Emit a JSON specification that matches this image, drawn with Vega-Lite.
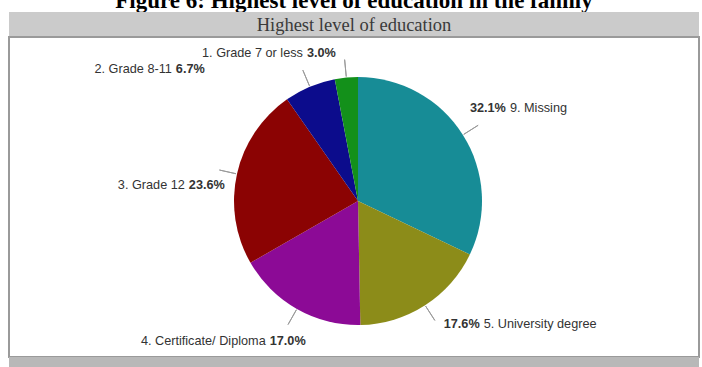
{
  "$schema": "https://vega.github.io/schema/vega-lite/v6.json",
  "padding": {"left": 8, "right": 4, "top": -5, "bottom": 0},
  "background": "white",
  "bounds": "flush",
  "spacing": 0,
  "config": {"view": {"stroke": null}, "concat": {"spacing": 0}},
  "datasets": {
    "edu": [
      {"category": "9. Missing", "share": 0.321},
      {"category": "5. University degree", "share": 0.176},
      {"category": "4. Certificate/ Diploma", "share": 0.170},
      {"category": "3. Grade 12", "share": 0.236},
      {"category": "2. Grade 8-11", "share": 0.067},
      {"category": "1. Grade 7 or less", "share": 0.030}
    ],
    "figtitle": [{"t": "Figure 6: Highest level of education in the family"}],
    "header": [{"t": "Highest level of education"}],
    "blank": [{"t": ""}]
  },
  "vconcat": [
    {
      "width": 690, "height": 12,
      "data": {"name": "figtitle"},
      "mark": {"type": "text", "clip": true, "font": "Liberation Serif", "fontWeight": "bold", "fontSize": 23, "color": "black", "baseline": "alphabetic", "dy": 2},
      "encoding": {"text": {"field": "t"}}
    },
    {
      "width": 690, "height": 25,
      "view": {"fill": "#cbcbcb", "stroke": null},
      "data": {"name": "header"},
      "mark": {"type": "text", "font": "Liberation Serif", "fontSize": 18.5, "color": "#3a3a3a", "baseline": "middle"},
      "encoding": {"text": {"field": "t"}}
    },
    {
      "width": 690, "height": 320,
      "view": {"fill": "white", "stroke": "#9a9a9a", "strokeWidth": 2},
      "data": {"name": "edu"},
      "encoding": {
        "theta": {"field": "share", "type": "quantitative", "stack": true},
        "order": {"field": "category", "sort": "descending"}
      },
      "layer": [
        {
          "mark": {"type": "arc", "outerRadius": 124, "xOffset": 4, "yOffset": 4},
          "encoding": {
            "color": {"field": "category", "type": "nominal", "legend": null,
              "scale": {"domain": ["9. Missing", "5. University degree", "4. Certificate/ Diploma", "3. Grade 12", "2. Grade 8-11", "1. Grade 7 or less"],
                        "range": ["#178c96", "#8c8c19", "#8c0a96", "#8b0303", "#0c0c8c", "#13901a"]}}
          }
        },
        {
          "mark": {"type": "arc", "innerRadius": 125, "outerRadius": 142, "padAngle": 3, "fill": "transparent", "stroke": "#9a9a9a", "strokeWidth": 1, "xOffset": 4, "yOffset": 4}
        },
        {
          "mark": {"type": "text", "radius": 176, "align": "right", "baseline": "middle", "dx": -1, "dy": 1, "xOffset": 4, "yOffset": 4, "font": "Liberation Sans", "fontSize": 12.7, "fontWeight": "bold", "color": "#333333"},
          "encoding": {"text": {"condition": {"test": "datum.category === '9. Missing'", "field": "share", "type": "quantitative", "format": ".1%"}, "value": ""}}
        },
        {
          "mark": {"type": "text", "radius": 176, "align": "left", "baseline": "middle", "dx": 3, "dy": 1, "xOffset": 4, "yOffset": 4, "font": "Liberation Sans", "fontSize": 12.7, "color": "#333333"},
          "encoding": {"text": {"condition": {"test": "datum.category === '9. Missing'", "field": "category", "type": "nominal"}, "value": ""}}
        },
        {
          "mark": {"type": "text", "radius": 175, "align": "right", "baseline": "middle", "dx": 27, "dy": -24, "xOffset": 4, "yOffset": 4, "font": "Liberation Sans", "fontSize": 12.7, "fontWeight": "bold", "color": "#333333"},
          "encoding": {"text": {"condition": {"test": "datum.category === '5. University degree'", "field": "share", "type": "quantitative", "format": ".1%"}, "value": ""}}
        },
        {
          "mark": {"type": "text", "radius": 175, "align": "left", "baseline": "middle", "dx": 31, "dy": -24, "xOffset": 4, "yOffset": 4, "font": "Liberation Sans", "fontSize": 12.7, "color": "#333333"},
          "encoding": {"text": {"condition": {"test": "datum.category === '5. University degree'", "field": "category", "type": "nominal"}, "value": ""}}
        },
        {
          "mark": {"type": "text", "radius": 165, "align": "right", "baseline": "middle", "dx": -11, "dy": -4, "xOffset": 4, "yOffset": 4, "font": "Liberation Sans", "fontSize": 12.7, "color": "#333333"},
          "encoding": {"text": {"condition": {"test": "datum.category === '4. Certificate/ Diploma'", "field": "category", "type": "nominal"}, "value": ""}}
        },
        {
          "mark": {"type": "text", "radius": 165, "align": "left", "baseline": "middle", "dx": -7, "dy": -4, "xOffset": 4, "yOffset": 4, "font": "Liberation Sans", "fontSize": 12.7, "fontWeight": "bold", "color": "#333333"},
          "encoding": {"text": {"condition": {"test": "datum.category === '4. Certificate/ Diploma'", "field": "share", "type": "quantitative", "format": ".1%"}, "value": ""}}
        },
        {
          "mark": {"type": "text", "radius": 160, "align": "right", "baseline": "middle", "dx": -17, "dy": 19, "xOffset": 4, "yOffset": 4, "font": "Liberation Sans", "fontSize": 12.7, "color": "#333333"},
          "encoding": {"text": {"condition": {"test": "datum.category === '3. Grade 12'", "field": "category", "type": "nominal"}, "value": ""}}
        },
        {
          "mark": {"type": "text", "radius": 160, "align": "left", "baseline": "middle", "dx": -13, "dy": 19, "xOffset": 4, "yOffset": 4, "font": "Liberation Sans", "fontSize": 12.7, "fontWeight": "bold", "color": "#333333"},
          "encoding": {"text": {"condition": {"test": "datum.category === '3. Grade 12'", "field": "share", "type": "quantitative", "format": ".1%"}, "value": ""}}
        },
        {
          "mark": {"type": "text", "radius": 160, "align": "right", "baseline": "middle", "dx": -124, "dy": 15, "xOffset": 4, "yOffset": 4, "font": "Liberation Sans", "fontSize": 12.7, "color": "#333333"},
          "encoding": {"text": {"condition": {"test": "datum.category === '2. Grade 8-11'", "field": "category", "type": "nominal"}, "value": ""}}
        },
        {
          "mark": {"type": "text", "radius": 160, "align": "left", "baseline": "middle", "dx": -120, "dy": 15, "xOffset": 4, "yOffset": 4, "font": "Liberation Sans", "fontSize": 12.7, "fontWeight": "bold", "color": "#333333"},
          "encoding": {"text": {"condition": {"test": "datum.category === '2. Grade 8-11'", "field": "share", "type": "quantitative", "format": ".1%"}, "value": ""}}
        },
        {
          "mark": {"type": "text", "radius": 150, "align": "right", "baseline": "middle", "dx": -41, "dy": 1, "xOffset": 4, "yOffset": 4, "font": "Liberation Sans", "fontSize": 12.7, "color": "#333333"},
          "encoding": {"text": {"condition": {"test": "datum.category === '1. Grade 7 or less'", "field": "category", "type": "nominal"}, "value": ""}}
        },
        {
          "mark": {"type": "text", "radius": 150, "align": "left", "baseline": "middle", "dx": -37, "dy": 1, "xOffset": 4, "yOffset": 4, "font": "Liberation Sans", "fontSize": 12.7, "fontWeight": "bold", "color": "#333333"},
          "encoding": {"text": {"condition": {"test": "datum.category === '1. Grade 7 or less'", "field": "share", "type": "quantitative", "format": ".1%"}, "value": ""}}
        }
      ]
    },
    {
      "width": 690, "height": 10,
      "view": {"fill": "#b8b8b8", "stroke": null},
      "data": {"name": "blank"},
      "mark": {"type": "text"},
      "encoding": {"text": {"field": "t"}}
    }
  ]
}
